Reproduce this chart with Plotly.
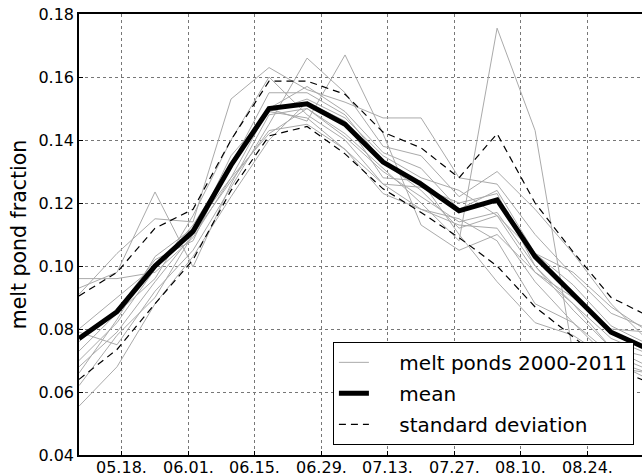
import plotly.graph_objects as go

# 8-day composite dates
dates = ["2001-05-09", "2001-05-17", "2001-05-25", "2001-06-02", "2001-06-10", "2001-06-18",
         "2001-06-26", "2001-07-04", "2001-07-12", "2001-07-20", "2001-07-28", "2001-08-05",
         "2001-08-13", "2001-08-21", "2001-08-29", "2001-09-06"]

years_2000_2011 = [
    [0.096, 0.096, 0.098, 0.109, 0.128, 0.150, 0.157, 0.149, 0.136, 0.131, 0.118, 0.124, 0.104, 0.094, 0.081, 0.075],
    [0.093, 0.098, 0.1235, 0.0997, 0.126, 0.148, 0.150, 0.141, 0.130, 0.122, 0.114, 0.117, 0.100, 0.088, 0.077, 0.072],
    [0.091, 0.104, 0.115, 0.114, 0.153, 0.163, 0.156, 0.152, 0.147, 0.147, 0.128, 0.126, 0.110, 0.097, 0.085, 0.080],
    [0.080, 0.090, 0.100, 0.112, 0.128, 0.142, 0.150, 0.142, 0.131, 0.120, 0.108, 0.1755, 0.143, 0.072, 0.068, 0.066],
    [0.079, 0.075, 0.092, 0.105, 0.125, 0.145, 0.166, 0.155, 0.138, 0.135, 0.122, 0.130, 0.118, 0.104, 0.088, 0.076],
    [0.076, 0.086, 0.102, 0.108, 0.133, 0.150, 0.146, 0.167, 0.142, 0.113, 0.105, 0.110, 0.098, 0.090, 0.080, 0.079],
    [0.073, 0.085, 0.096, 0.116, 0.140, 0.160, 0.148, 0.140, 0.126, 0.125, 0.120, 0.123, 0.100, 0.086, 0.074, 0.068],
    [0.070, 0.082, 0.099, 0.113, 0.132, 0.155, 0.155, 0.148, 0.133, 0.124, 0.112, 0.116, 0.098, 0.088, 0.074, 0.071],
    [0.068, 0.079, 0.095, 0.110, 0.135, 0.149, 0.147, 0.137, 0.126, 0.118, 0.113, 0.112, 0.095, 0.082, 0.070, 0.066],
    [0.066, 0.083, 0.103, 0.112, 0.132, 0.149, 0.153, 0.147, 0.135, 0.128, 0.124, 0.116, 0.104, 0.098, 0.087, 0.079],
    [0.062, 0.078, 0.090, 0.110, 0.127, 0.143, 0.145, 0.137, 0.123, 0.118, 0.115, 0.108, 0.088, 0.082, 0.072, 0.067],
    [0.0555, 0.068, 0.088, 0.103, 0.122, 0.140, 0.152, 0.146, 0.128, 0.127, 0.110, 0.095, 0.082, 0.078, 0.070, 0.064],
]

mean_vals = [0.077, 0.0855, 0.100, 0.111, 0.132, 0.150, 0.1515, 0.145, 0.133, 0.126, 0.1175, 0.121,
             0.103, 0.091, 0.079, 0.0735]
std_upper = [0.0905, 0.098, 0.112, 0.118, 0.140, 0.1587, 0.1587, 0.1545, 0.1425, 0.1375, 0.128, 0.142,
             0.120, 0.1045, 0.090, 0.084]
std_lower = [0.064, 0.0735, 0.088, 0.102, 0.124, 0.1413, 0.1443, 0.1356, 0.1245, 0.117, 0.109, 0.100,
             0.087, 0.0775, 0.068, 0.063]

tick_dates = ["2001-05-18", "2001-06-01", "2001-06-15", "2001-06-29", "2001-07-13",
              "2001-07-27", "2001-08-10", "2001-08-24"]
tick_labels = ["05.18.", "06.01.", "06.15.", "06.29.", "07.13.", "07.27.", "08.10.", "08.24."]
y_ticks = [0.04, 0.06, 0.08, 0.10, 0.12, 0.14, 0.16, 0.18]

FONT = "DejaVu Sans, Liberation Sans, sans-serif"
PAD = "\u00a0\u00a0\u00a0\u00a0"

fig = go.Figure()
for i, series in enumerate(years_2000_2011):
    fig.add_trace(go.Scatter(
        x=dates, y=series, mode="lines",
        line=dict(color="#aaaaaa", width=1),
        name=PAD + "melt ponds 2000-2011", legendgroup="years",
        showlegend=(i == 0), legendrank=1, hoverinfo="skip"))

fig.add_trace(go.Scatter(x=dates, y=std_upper, mode="lines",
                         line=dict(color="black", width=1.2, dash="7px,5px"),
                         name=PAD + "standard deviation", legendgroup="std", legendrank=3))
fig.add_trace(go.Scatter(x=dates, y=std_lower, mode="lines",
                         line=dict(color="black", width=1.2, dash="7px,5px"),
                         name=PAD + "standard deviation", legendgroup="std", showlegend=False))
fig.add_trace(go.Scatter(x=dates, y=mean_vals, mode="lines",
                         line=dict(color="black", width=5),
                         name=PAD + "mean", legendgroup="mean", legendrank=2))

# x tick labels as text just under the axis
for d, lab in zip(tick_dates, tick_labels):
    fig.add_annotation(x=d, y=0, xref="x", yref="paper", text=lab, showarrow=False,
                       yanchor="top", xanchor="center", yshift=-1,
                       font=dict(family=FONT, size=16, color="black"))

fig.update_layout(
    width=642, height=476,
    margin=dict(l=79, r=0, t=14, b=21),
    paper_bgcolor="white", plot_bgcolor="white",
    font=dict(family=FONT, size=16, color="black"),
    showlegend=True,
    legend=dict(
        x=0.451, y=0.023, xanchor="left", yanchor="bottom",
        bgcolor="white", bordercolor="black", borderwidth=1,
        font=dict(family=FONT, size=20, color="black"),
        tracegroupgap=2, itemwidth=30,
    ),
)
fig.update_xaxes(
    type="date", range=["2001-05-09", "2001-09-04 12:00"],
    tickvals=tick_dates, showticklabels=False,
    showgrid=True, gridcolor="#777777", griddash="dot", gridwidth=1,
    showline=True, linecolor="black", linewidth=1.5, mirror=True,
    ticks="inside", ticklen=4, tickcolor="black",
    zeroline=False, automargin=False,
)
fig.update_yaxes(
    range=[0.04, 0.18], tickvals=y_ticks, tickformat=".2f",
    showgrid=True, gridcolor="#777777", griddash="dot", gridwidth=1,
    showline=True, linecolor="black", linewidth=1.5, mirror=False,
    ticks="inside", ticklen=4, tickcolor="black",
    zeroline=False, tickfont=dict(size=16), automargin=False,
    ticklabeloverflow="allow",
    title=dict(text="melt pond fraction", font=dict(size=20.5), standoff=6),
)

# remove the browser's default 8px page margin so the figure fills the window exactly
fig.write_html("out.html", config={"displayModeBar": False},
               post_script="document.body.style.margin='0';")
